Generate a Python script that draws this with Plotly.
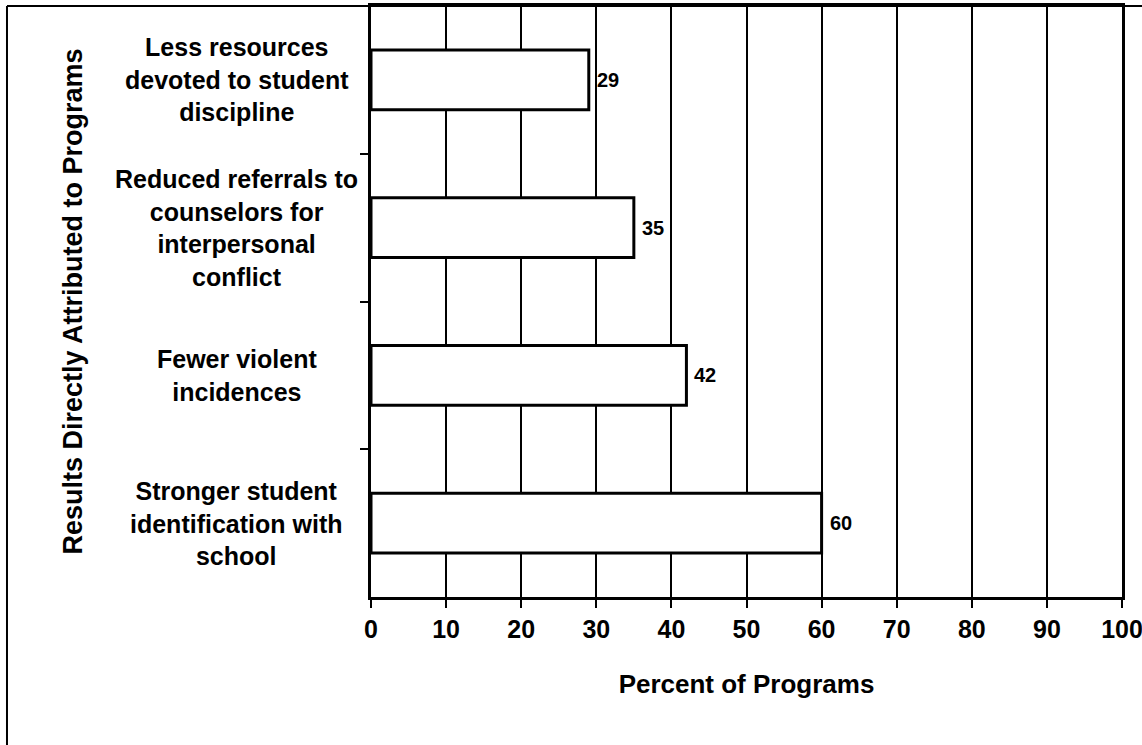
import plotly.graph_objects as go

categories = [
    "Less resources<br>devoted to student<br>discipline",
    "Reduced referrals to<br>counselors for<br>interpersonal<br>conflict",
    "Fewer violent<br>incidences",
    "Stronger student<br>identification with<br>school",
]
values = [29, 35, 42, 60]
x_ticks = [0, 10, 20, 30, 40, 50, 60, 70, 80, 90, 100]
x_title = "Percent of Programs"
y_title = "Results Directly Attributed to Programs"

FONT = "Liberation Sans, Arial, sans-serif"

fig = go.Figure()
fig.add_trace(go.Bar(
    y=categories,
    x=values,
    orientation="h",
    marker=dict(color="white", line=dict(color="black", width=3)),
    width=0.405,
    hoverinfo="x+y",
))

annotations = []
for c in categories:
    annotations.append(dict(
        x=-0.179, xref="paper", y=c, yref="y",
        text=c, showarrow=False, xanchor="center", yanchor="middle",
        align="center",
        font=dict(family=FONT, size=25, color="black", weight="bold"),
    ))
for c, v in zip(categories, values):
    annotations.append(dict(
        x=v, xref="x", y=c, yref="y",
        text=str(v), showarrow=False, xanchor="left", yanchor="middle",
        xshift=6,
        font=dict(family=FONT, size=20, color="black", weight="bold"),
    ))
annotations.append(dict(
    x=-0.398, xref="paper", y=0.5, yref="paper",
    text=y_title, showarrow=False, textangle=-90,
    xanchor="center", yanchor="middle",
    font=dict(family=FONT, size=27, color="black", weight="bold"),
))

fig.update_layout(
    width=1142, height=745,
    margin=dict(l=371, r=20, t=6, b=148, autoexpand=False),
    paper_bgcolor="white", plot_bgcolor="white",
    showlegend=False,
    annotations=annotations,
    xaxis=dict(
        range=[0, 100], tickvals=x_ticks, ticktext=[str(t) for t in x_ticks],
        showgrid=True, gridcolor="black", gridwidth=1.5,
        showline=True, linecolor="black", linewidth=2.5, mirror=True,
        ticks="outside", ticklen=8, tickwidth=1.5, tickcolor="black",
        tickfont=dict(family=FONT, size=25, color="black", weight="bold"),
        ticklabeloverflow="allow",
        automargin=False,
        zeroline=False,
        title=dict(text=x_title, standoff=34,
                   font=dict(family=FONT, size=26, color="black", weight="bold")),
    ),
    yaxis=dict(
        autorange="reversed", type="category",
        showgrid=False, showticklabels=False, automargin=False,
        showline=True, linecolor="black", linewidth=2.5, mirror=True,
        ticks="outside", tickson="boundaries", ticklen=8, tickwidth=1.5, tickcolor="black",
    ),
    shapes=[
        dict(type="line", xref="paper", yref="paper", x0=-0.4847, x1=-0.4847, y0=1.0, y1=-0.26,
             line=dict(color="black", width=2)),
        dict(type="line", xref="paper", yref="paper", x0=-0.4847, x1=1.03, y0=1.0, y1=1.0,
             line=dict(color="black", width=2)),
    ],
)

fig.write_html(
    "out.html",
    config={"displayModeBar": False},
    post_script="document.body.style.margin='0';document.body.style.overflow='hidden';",
)
